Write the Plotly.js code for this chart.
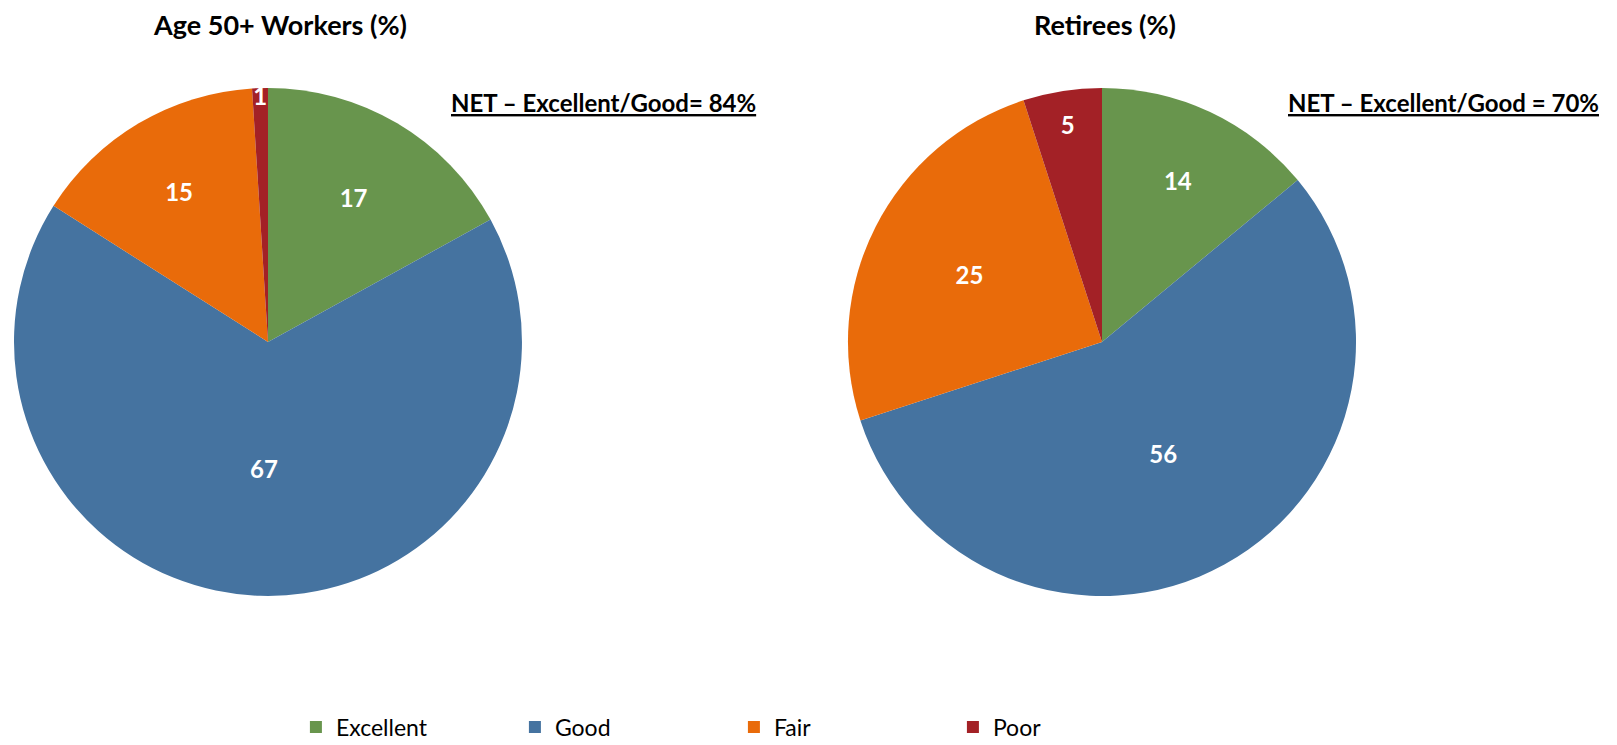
<!DOCTYPE html>
<html>
<head>
<meta charset="utf-8">
<script src="https://cdn.plot.ly/plotly-3.0.1.min.js"></script>
<style>
  html, body { margin: 0; padding: 0; background: #fff; }
  #chart { width: 1617px; height: 745px; }
</style>
</head>
<body>
<div id="chart"></div>
<script>
// categories and values
const categories = ['Excellent', 'Good', 'Fair', 'Poor'];
const workersValues = [17, 67, 15, 1];
const retireesValues = [14, 56, 25, 5];
const sliceColors = ['#68954D', '#4573A0', '#E96B0A', '#A32126'];
const netWorkers = 'NET – Excellent/Good= 84%';
const netRetirees = 'NET – Excellent/Good = 70%';

const font = 'Lato, "Open Sans", sans-serif';

function pieTrace(values, domainX, showlegend) {
    return {
        type: 'pie',
        labels: categories,
        values: values,
        sort: false,
        direction: 'clockwise',
        rotation: 0,
        marker: { colors: sliceColors, line: { width: 0 } },
        textinfo: 'value',
        textposition: 'inside',
        insidetextorientation: 'horizontal',
        textfont: { family: font, size: 24, color: '#ffffff', weight: 'bold' },
        domain: { x: domainX, y: [0.2, 0.882] },
        showlegend: showlegend,
        hoverinfo: 'label+value'
    };
}

const data = [
    pieTrace(workersValues, [0.00866, 0.3228], true),
    pieTrace(retireesValues, [0.5244, 0.8386], false)
];

const layout = {
    width: 1617,
    height: 745,
    margin: { l: 0, r: 0, t: 0, b: 0, autoexpand: false },
    paper_bgcolor: '#ffffff',
    font: { family: font, color: '#000000' },
    uniformtext: { minsize: 24, mode: 'show' },
    legend: {
        orientation: 'h',
        x: 0.183, xanchor: 'left',
        y: 1 - 727 / 745, yanchor: 'middle',
        entrywidth: 174,
        entrywidthmode: 'pixels',
        font: { family: font, size: 23, color: '#000000' },
        itemsizing: 'constant'
    },
    annotations: [
        { text: '<b>Age 50+ Workers (%)</b>', x: 280, y: 25, size: 27 },
        { text: '<b>Retirees (%)</b>', x: 1105, y: 25, size: 27 },
        { text: '<b><u>' + netWorkers + '</u></b>', x: 758, y: 103, xanchor: 'right', size: 24 },
        { text: '<b><u>' + netRetirees + '</u></b>', x: 1601, y: 103, xanchor: 'right', size: 24 }
    ].map(a => ({
        text: a.text,
        xref: 'paper', yref: 'paper',
        x: a.x / 1617, y: 1 - a.y / 745,
        xanchor: a.xanchor || 'center', yanchor: 'middle',
        showarrow: false,
        font: { family: font, size: a.size, color: '#000000' }
    }))
};

Plotly.newPlot('chart', data, layout, { displayModeBar: false });
</script>
</body>
</html>
